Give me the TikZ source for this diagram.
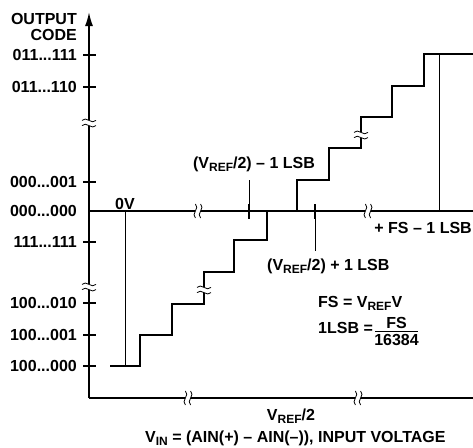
\documentclass[tikz,border=0pt]{standalone}
\usepackage{fontspec}
\setmainfont{Liberation Sans}
\usetikzlibrary{arrows.meta}
\newcommand{\sbs}[1]{\raisebox{-0.4ex}{\fontsize{12}{12}\selectfont #1}}
\tikzset{
  axis/.style={line width=1.7pt},
  stair/.style={line width=1.8pt, line join=miter},
  thin/.style={line width=0.9pt},
  ytick/.style={line width=1.3pt},
  mtick/.style={line width=2.4pt},
  fracbar/.style={line width=1.3pt},
  lbl/.style={inner sep=0pt, font=\fontsize{16}{18}\selectfont\bfseries},
  brk/.pic={
    \fill[white] (-6,-2.6) rectangle (6,2.6);
    \draw[line width=0.8pt] (-7,-2.6) .. controls (-3,-7.5) and (3,2.3) .. (7,-2.6);
    \draw[line width=0.8pt] (-7,2.6) .. controls (-3,-2.3) and (3,7.5) .. (7,2.6);
  }
}
\begin{document}
\begin{tikzpicture}[x=1pt,y=-1pt]
\path[use as bounding box] (0,0) rectangle (473,447);
% axes
\coordinate (O) at (89,398);
\coordinate (Ytop) at (89,12);
\coordinate (Xend) at (473,398);
\coordinate (M0) at (89,211);
\coordinate (Mend) at (473,211);
\draw[axis, -{Latex[length=14pt,width=8pt]}] (O) -- (Ytop);
\draw[axis] (O) -- (Xend);
\draw[axis] (M0) -- (Mend);
% y ticks
\foreach \yy in {55,87,182,242,303,335,366} \draw[ytick] (83,\yy) -- (96,\yy);
% tick labels
\node[lbl, anchor=base east] (out) at (77,24) {OUTPUT};
\node[lbl, anchor=base east] (code) at (77,40) {CODE};
\node[lbl, anchor=east] (t1) at (77,55) {011...111};
\node[lbl, anchor=east] (t2) at (77,87) {011...110};
\node[lbl, anchor=east] (t3) at (77,182) {000...001};
\node[lbl, anchor=east] (t4) at (77,211) {000...000};
\node[lbl, anchor=east] (t5) at (77,242) {111...111};
\node[lbl, anchor=east] (t6) at (77,303) {100...010};
\node[lbl, anchor=east] (t7) at (77,335) {100...001};
\node[lbl, anchor=east] (t8) at (77,366) {100...000};
% thin verticals
\coordinate (z0) at (125,211);
\coordinate (z1) at (125,366);
\draw[thin] (z0) -- (z1);
\coordinate (f0) at (439,54);
\coordinate (f1) at (439,211);
\draw[thin] (f0) -- (f1);
% staircase
\draw[stair] (110,366) -- (140,366) -- (140,335) -- (172,335) -- (172,304) -- (204,304) -- (204,272) -- (234,272) -- (234,240) -- (267,240) -- (267,211) -- (297,211) -- (297,180) -- (329,180) -- (329,148) -- (361,148) -- (361,117) -- (392,117) -- (392,86) -- (424,86) -- (424,54) -- (473,54);
% mid axis ticks and leaders
\coordinate (a0) at (249,204);
\coordinate (a1) at (249,219);
\coordinate (a2) at (249,180);
\draw[mtick] (a0) -- (a1);
\draw[thin] (a0) -- (a2);
\coordinate (b0) at (315,204);
\coordinate (b1) at (315,219);
\coordinate (b2) at (315,251);
\draw[mtick] (b0) -- (b1);
\draw[thin] (b1) -- (b2);
% breaks
\pic at (89,123) {brk};
\pic at (89,287) {brk};
\pic[rotate=90] at (198,211) {brk};
\pic[rotate=90] at (368,211) {brk};
\pic[rotate=90] at (188,398) {brk};
\pic[rotate=90] at (358,398) {brk};
\pic at (204,290) {brk};
\pic at (361,135) {brk};
% labels
\node[lbl, anchor=base] (zv) at (125,209) {0V};
\node[lbl, anchor=base] (lm) at (254,168) {(V\sbs{REF}/2) -- 1 LSB};
\node[lbl, anchor=base west] (lp) at (267,270) {(V\sbs{REF}/2) + 1 LSB};
\node[lbl, anchor=base east] (fsl) at (472,233) {+ FS -- 1 LSB};
\node[lbl, anchor=base west] (fs) at (318,307) {FS = V\sbs{REF}V};
\node[lbl, anchor=base west] (lsb) at (318,333) {1LSB =};
\node[lbl, anchor=base] (num) at (396.5,328) {FS};
\node[lbl, anchor=base] (den) at (396.5,345) {16384};
\coordinate (fb0) at (375,331.5);
\coordinate (fb1) at (418,331.5);
\draw[fracbar] (fb0) -- (fb1);
\node[lbl, anchor=base] (vh) at (291,420) {V\sbs{REF}/2};
\node[lbl, anchor=base west] (vin) at (145,442) {V\sbs{IN} = (AIN(+) -- AIN(--)), INPUT VOLTAGE};
\end{tikzpicture}
\end{document}
